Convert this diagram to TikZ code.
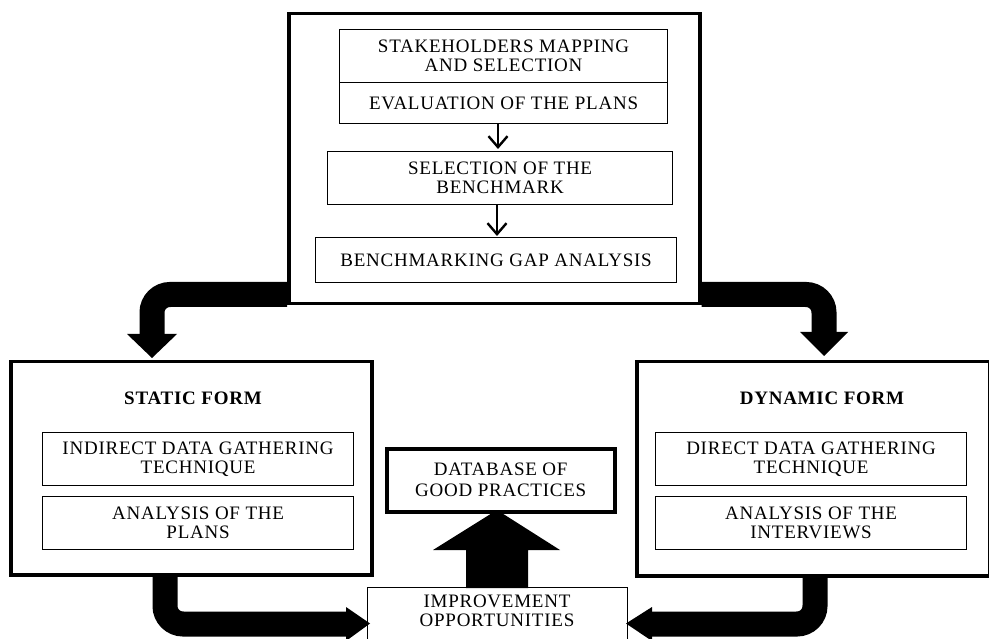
\documentclass[tikz,border=0pt]{standalone}
\usepackage{fontspec}
\setmainfont{Liberation Serif}[LetterSpace=4]
\usetikzlibrary{arrows.meta}
\begin{document}
\begin{tikzpicture}[x=1pt,y=-1pt,
  outerbox/.style={draw, line width=3.5pt, inner sep=0pt, anchor=north west},
  innerbox/.style={draw, line width=1.2pt, inner sep=0pt, anchor=north west, align=center,
    font=\fontsize{19}{19}\selectfont},
  titletext/.style={font=\fontsize{19}{19}\selectfont\bfseries},
  smallarrow/.style={line width=2.4pt, -{Straight Barb[length=11pt,width=19pt,line width=2.4pt]}},
  band/.style={line width=25pt, rounded corners=18pt},
  head/.style={fill=black, draw=none}
]
\useasboundingbox (0,0) rectangle (989,639);
\fill[white] (0,0) rectangle (989,639);

% top box
\node[outerbox, minimum width=411pt, minimum height=290pt] (top) at (287,12) {};
\node[innerbox, minimum width=328pt, minimum height=53pt] (stake) at (339,29) {STAKEHOLDERS MAPPING\\AND SELECTION};
\node[innerbox, minimum width=328pt, minimum height=41pt] (eval) at (339,82) {EVALUATION OF THE PLANS};
\node[innerbox, minimum width=345pt, minimum height=53pt] (sel) at (327,151) {SELECTION OF THE\\BENCHMARK};
\node[innerbox, minimum width=361pt, minimum height=45pt] (gap) at (315,237) {BENCHMARKING GAP ANALYSIS};
\draw[smallarrow] (eval.south -| 498,0) -- ([yshift=2pt]sel.north -| 498,0);
\draw[smallarrow] (sel.south -| 497,0) -- ([yshift=1pt]gap.north -| 497,0);

% static form
\node[outerbox, minimum width=361pt, minimum height=213pt] (static) at (9,360) {};
\node[titletext] (stitle) at (193,398) {STATIC FORM};
\node[innerbox, minimum width=311pt, minimum height=53pt] (indirect) at (42,432) {INDIRECT DATA GATHERING\\TECHNIQUE};
\node[innerbox, minimum width=311pt, minimum height=53pt] (aplans) at (42,496) {ANALYSIS OF THE\\PLANS};

% dynamic form
\node[outerbox, minimum width=353pt, minimum height=214pt] (dynamic) at (635,360) {};
\node[titletext] (dtitle) at (822,398) {DYNAMIC FORM};
\node[innerbox, minimum width=311pt, minimum height=53pt] (direct) at (655,432) {DIRECT DATA GATHERING\\TECHNIQUE};
\node[innerbox, minimum width=311pt, minimum height=53pt] (ainter) at (655,496) {ANALYSIS OF THE\\INTERVIEWS};

% database and improvement
\node[outerbox, minimum width=228pt, minimum height=63pt, align=center,
  font=\fontsize{19}{21}\selectfont] (db) at (385,447) {DATABASE OF\\GOOD PRACTICES};
\node[draw, line width=1.2pt, anchor=north west, minimum width=260pt, minimum height=56pt] (impbox) at (367,587) {};
\node[align=center, font=\fontsize{19}{19}\selectfont] (imp) at (497,611) {IMPROVEMENT\\OPPORTUNITIES};

% big curved arrows
\coordinate (lstart) at ([yshift=11pt]top.south west);
\coordinate (lend) at (152,336);
\draw[band] (lstart) -| (lend);
\fill[head] (127,334) -- (177,334) -- (152,358) -- cycle;

\coordinate (rstart) at ([yshift=11pt]top.south east);
\coordinate (rend) at (824,334);
\draw[band] (rstart) -| (rend);
\fill[head] (800,332) -- (848,332) -- (824,356) -- cycle;

\coordinate (blstart) at (static.south -| 165,0);
\coordinate (blend) at (348,624);
\draw[band] ([yshift=2pt]blstart) |- (blend);
\fill[head] (346,607) -- (346,641) -- (370,623.5) -- cycle;

\coordinate (brstart) at (dynamic.south -| 815,0);
\coordinate (brend) at (650,624);
\draw[band] ([yshift=2pt]brstart) |- (brend);
\fill[head] (652,607) -- (652,641) -- (626,623.5) -- cycle;

% big up arrow
\fill[head] (466,588) -- (466,550) -- (433,550) -- (497,510) -- (560,550) -- (528,550) -- (528,588) -- cycle;
\end{tikzpicture}
\end{document}
